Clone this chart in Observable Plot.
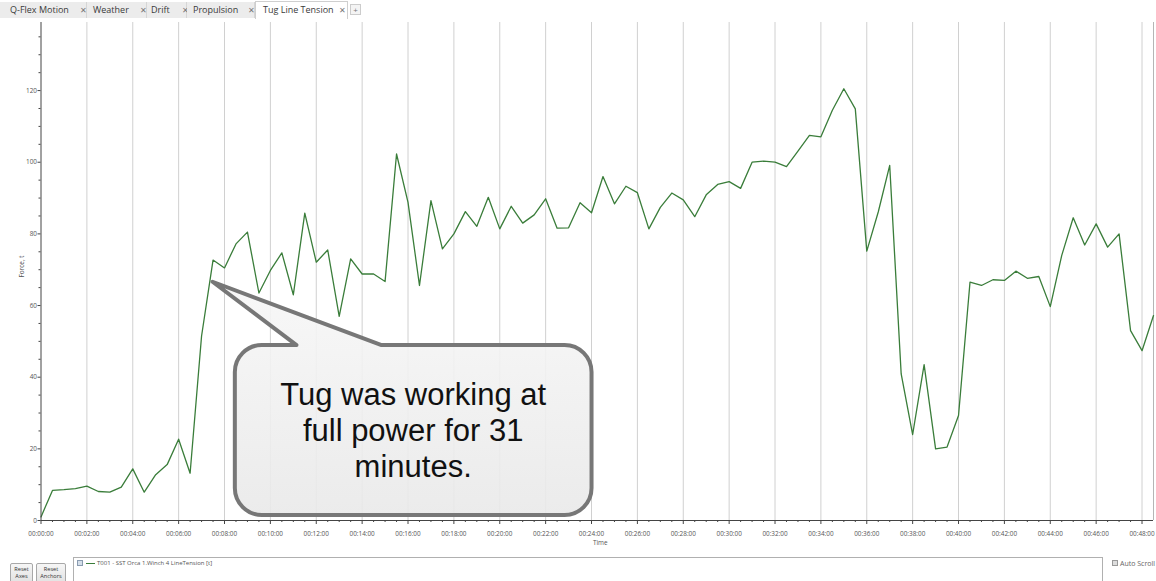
<!DOCTYPE html>
<html>
<head>
<meta charset="utf-8">
<script src="https://cdn.jsdelivr.net/npm/d3@7"></script>
<script src="https://cdn.jsdelivr.net/npm/@observablehq/plot@0.6"></script>
<style>
  html, body { margin: 0; padding: 0; background: #fff; width: 1156px; height: 581px; overflow: hidden; position: relative; font-family: "Open Sans", "Noto Sans", sans-serif; }
  .abs { position: absolute; }
  .tab { position: absolute; top: 2px; height: 16px; background: #ececec; border-right: 1px solid #d6d6d6; font-size: 9px; color: #3a3a3a; line-height: 16px; white-space: nowrap; box-sizing: border-box; }
  .tab.sel { background: #fff; border: 1px solid #cfcfcf; border-bottom: none; top: 1px; height: 18px; }
  .tab .x { position: absolute; top: 0; font-size: 7.5px; color: #777; }
  .btn { position: absolute; top: 563px; height: 24px; border: 1px solid #a8a8a8; border-radius: 2px; background: linear-gradient(#f6f6f6, #dedede); font-size: 5.6px; color: #333; text-align: center; line-height: 6.5px; padding-top: 2px; box-sizing: border-box; }
  #chart { position: absolute; left: 0; top: 18px; }
</style>
</head>
<body>
<div id="tabs"></div>
<div id="chart"></div>
<div id="bottom"></div>
<script>
// ---------------- data ----------------
const tabNames = ["Q-Flex Motion", "Weather", "Drift", "Propulsion", "Tug Line Tension"];
const seriesName = "T001 - SST Orca 1.Winch 4 LineTension [t]";
const yLabel = "Force, t";
const xLabel = "Time";
const calloutLines = ["Tug was working at", "full power for 31", "minutes."];
const calloutAnchor = {time: "00:07:30", value: 66.5};

const times = [
  "00:00:00","00:00:30","00:01:00","00:01:30","00:02:00","00:02:30","00:03:00","00:03:30",
  "00:04:00","00:04:30","00:05:00","00:05:30","00:06:00","00:06:30","00:07:00","00:07:30",
  "00:08:00","00:08:30","00:09:00","00:09:30","00:10:00","00:10:30","00:11:00","00:11:30",
  "00:12:00","00:12:30","00:13:00","00:13:30","00:14:00","00:14:30","00:15:00","00:15:30",
  "00:16:00","00:16:30","00:17:00","00:17:30","00:18:00","00:18:30","00:19:00","00:19:30",
  "00:20:00","00:20:30","00:21:00","00:21:30","00:22:00","00:22:30","00:23:00","00:23:30",
  "00:24:00","00:24:30","00:25:00","00:25:30","00:26:00","00:26:30","00:27:00","00:27:30",
  "00:28:00","00:28:30","00:29:00","00:29:30","00:30:00","00:30:30","00:31:00","00:31:30",
  "00:32:00","00:32:30","00:33:00","00:33:30","00:34:00","00:34:30","00:35:00","00:35:30",
  "00:36:00","00:36:30","00:37:00","00:37:30","00:38:00","00:38:30","00:39:00","00:39:30",
  "00:40:00","00:40:30","00:41:00","00:41:30","00:42:00","00:42:30","00:43:00","00:43:30",
  "00:44:00","00:44:30","00:45:00","00:45:30","00:46:00","00:46:30","00:47:00","00:47:30",
  "00:48:00","00:48:30"
];
const tension = [
  1.0, 8.4, 8.6, 8.9, 9.6, 8.1, 7.9, 9.3,
  14.4, 7.9, 12.8, 15.6, 22.7, 13.2, 51.5, 72.7,
  70.5, 77.2, 80.5, 63.5, 69.8, 74.7, 63.0, 85.8,
  72.1, 75.5, 57.0, 73.0, 68.8, 68.8, 66.7, 102.3,
  88.8, 65.6, 89.3, 75.8, 80.0, 86.2, 82.1, 90.2,
  81.4, 87.7, 83.0, 85.3, 89.8, 81.6, 81.7, 88.7,
  85.9, 96.0, 88.4, 93.3, 91.5, 81.4, 87.4, 91.4,
  89.5, 84.8, 90.9, 93.8, 94.6, 92.7, 100.0, 100.3,
  100.0, 98.8, 103.1, 107.5, 107.1, 114.5, 120.5, 114.9,
  75.2, 86.1, 99.1, 40.9, 24.0, 43.5, 20.0, 20.5,
  29.3, 66.5, 65.6, 67.2, 67.0, 69.6, 67.6, 68.1,
  59.7, 74.0, 84.5, 76.9, 82.8, 76.3, 80.0, 53.0,
  47.4, 57.2
];
const xTickLabels = [
  "00:00:00","00:02:00","00:04:00","00:06:00","00:08:00","00:10:00","00:12:00",
  "00:14:00","00:16:00","00:18:00","00:20:00","00:22:00","00:24:00","00:26:00",
  "00:28:00","00:30:00","00:32:00","00:34:00","00:36:00","00:38:00","00:40:00",
  "00:42:00","00:44:00","00:46:00","00:48:00"
];
const yTicks = [0, 20, 40, 60, 80, 100, 120];
const yMinorTicks = [5,10,15,25,30,35,45,50,55,65,70,75,85,90,95,105,110,115,125,130,135];
const yMax = 139;

// ---------------- tabs ----------------
const tabGeom = [[0,87,10,80],[87,60,6,53],[147,40,4,35],[187,68,6,61],[255,93,7,83]];
const tabsEl = document.getElementById("tabs");
tabNames.forEach((name, i) => {
  const [l, w, tx, xx] = tabGeom[i];
  const d = document.createElement("div");
  d.className = "tab" + (i === tabNames.length - 1 ? " sel" : "");
  d.style.left = l + "px"; d.style.width = w + "px";
  d.innerHTML = `<span class="abs" style="left:${tx}px">${name}</span><span class="x" style="left:${xx}px">✕</span>`;
  tabsEl.appendChild(d);
});
const plus = document.createElement("div");
plus.className = "abs";
plus.style.cssText = "left:350px;top:4px;width:11px;height:11px;border:1px solid #ccc;background:#f4f4f4;font-size:8px;line-height:10px;text-align:center;color:#777;box-sizing:border-box;";
plus.textContent = "+";
tabsEl.appendChild(plus);

// ---------------- chart ----------------
const parse = d3.utcParse("%H:%M:%S");
const fmt = d3.utcFormat("%H:%M:%S");
const data = times.map((t, i) => ({time: parse(t), value: tension[i]}));
const t0 = parse(times[0]);
const tEnd = parse(times[times.length - 1]);
const majorTicks = xTickLabels.map(parse);
const minorTicks = d3.utcSecond.every(30).range(t0, tEnd).filter(d => d.getUTCSeconds() !== 0 || d.getUTCMinutes() % 2 !== 0);

const plot = Plot.plot({
  width: 1156,
  height: 540,
  marginLeft: 40.5,
  marginRight: 3,
  marginTop: 4,
  marginBottom: 38,
  style: {fontFamily: "'Open Sans', 'Noto Sans', sans-serif", fontSize: "6.4px", color: "#555", background: "transparent", overflow: "visible"},
  x: {type: "utc", domain: [t0, tEnd]},
  y: {domain: [0, yMax]},
  marks: [
    Plot.ruleX(majorTicks.slice(1), {stroke: "#d0d0d0", strokeWidth: 1}),
    Plot.ruleX([tEnd], {stroke: "#b5b5b5", strokeWidth: 1}),
    Plot.line(data, {x: "time", y: "value", stroke: "#3a7d3a", strokeWidth: 1.3}),
    Plot.ruleY([0], {stroke: "#444", strokeWidth: 1}),
    Plot.ruleX([t0], {stroke: "#444", strokeWidth: 1}),
    Plot.axisX({ticks: majorTicks, tickFormat: fmt, tickSize: 4, tickPadding: 7, label: null, stroke: "#444", fill: "#555"}),
    Plot.axisX({ticks: minorTicks, tickFormat: () => "", tickSize: 2, label: null, stroke: "#444", fill: "#555"}),
    Plot.axisY({ticks: yTicks, tickSize: 3, tickPadding: 1, label: null, stroke: "#444", fill: "#555"}),
    Plot.axisY({ticks: yMinorTicks, tickFormat: () => "", tickSize: 2, label: null, stroke: "#444", fill: "#555"}),
    Plot.text([yLabel], {frameAnchor: "left", dx: -19, dy: 6, rotate: -90, fontSize: 6.4, fill: "#555"}),
    Plot.text([xLabel], {frameAnchor: "bottom", dx: 3, dy: 24, fontSize: 6.4, fill: "#555"})
  ]
});
document.getElementById("chart").appendChild(plot);

// ---------------- callout (anchored on data coordinates) ----------------
const xs = plot.scale("x"), ys = plot.scale("y");
const tipX = xs.apply(parse(calloutAnchor.time));
const tipY = ys.apply(calloutAnchor.value);
const L = tipX + 22.3, R = tipX + 379, T = tipY + 63.3, B = tipY + 233.3, r = 27;
const p1 = tipX + 84, p2 = tipX + 169;
const svg = d3.select(plot);
const defs = svg.append("defs");
const grad = defs.append("linearGradient").attr("id", "cg").attr("x1", 0).attr("y1", 0).attr("x2", 0).attr("y2", 1);
grad.append("stop").attr("offset", "0%").attr("stop-color", "#f7f7f7");
grad.append("stop").attr("offset", "100%").attr("stop-color", "#e9e9e9");
const path = `M${L + r},${T} L${p1},${T} L${tipX},${tipY} L${p2},${T} L${R - r},${T}
  A${r},${r} 0 0 1 ${R},${T + r} L${R},${B - r} A${r},${r} 0 0 1 ${R - r},${B}
  L${L + r},${B} A${r},${r} 0 0 1 ${L},${B - r} L${L},${T + r} A${r},${r} 0 0 1 ${L + r},${T} Z`;
svg.append("path").attr("d", path).attr("fill", "url(#cg)").attr("fill-opacity", 0.9)
  .attr("stroke", "#777").attr("stroke-width", 4).attr("stroke-linejoin", "round");
const cx = (L + R) / 2;
const txt = svg.append("text").attr("text-anchor", "middle")
  .attr("font-family", "'Liberation Sans', Arial, sans-serif").attr("font-size", 31).attr("fill", "#111");
calloutLines.forEach((s, i) => {
  txt.append("tspan").attr("x", cx).attr("y", tipY + 123.5 + i * 36).text(s);
});

// ---------------- bottom panel ----------------
const bottom = document.getElementById("bottom");
bottom.innerHTML = `
  <div class="btn" style="left:10px;width:23px;">Reset<br>Axes</div>
  <div class="btn" style="left:36px;width:30px;">Reset<br>Anchors</div>
  <div class="abs" style="left:73px;top:557px;width:1030px;height:40px;border-top:1px solid #b0b0b0;border-left:1px solid #b0b0b0;border-right:1px solid #b0b0b0;box-sizing:border-box;"></div>
  <div class="abs" style="left:77px;top:560px;width:6px;height:6px;border:1px solid #8a9bb0;background:#d5dfea;box-sizing:border-box;"></div>
  <div class="abs" style="left:86px;top:562.5px;width:9px;height:1.3px;background:#3a7d3a;"></div>
  <div class="abs" style="left:97px;top:559px;font-size:6px;color:#555;white-space:nowrap;line-height:8px;">${seriesName}</div>
  <div class="abs" style="left:1112px;top:559.5px;width:6px;height:6px;border:1px solid #999;background:#ddd;box-sizing:border-box;"></div>
  <div class="abs" style="left:1120px;top:558.5px;font-size:7px;color:#666;white-space:nowrap;line-height:9px;">Auto Scroll</div>
`;
</script>
</body>
</html>
